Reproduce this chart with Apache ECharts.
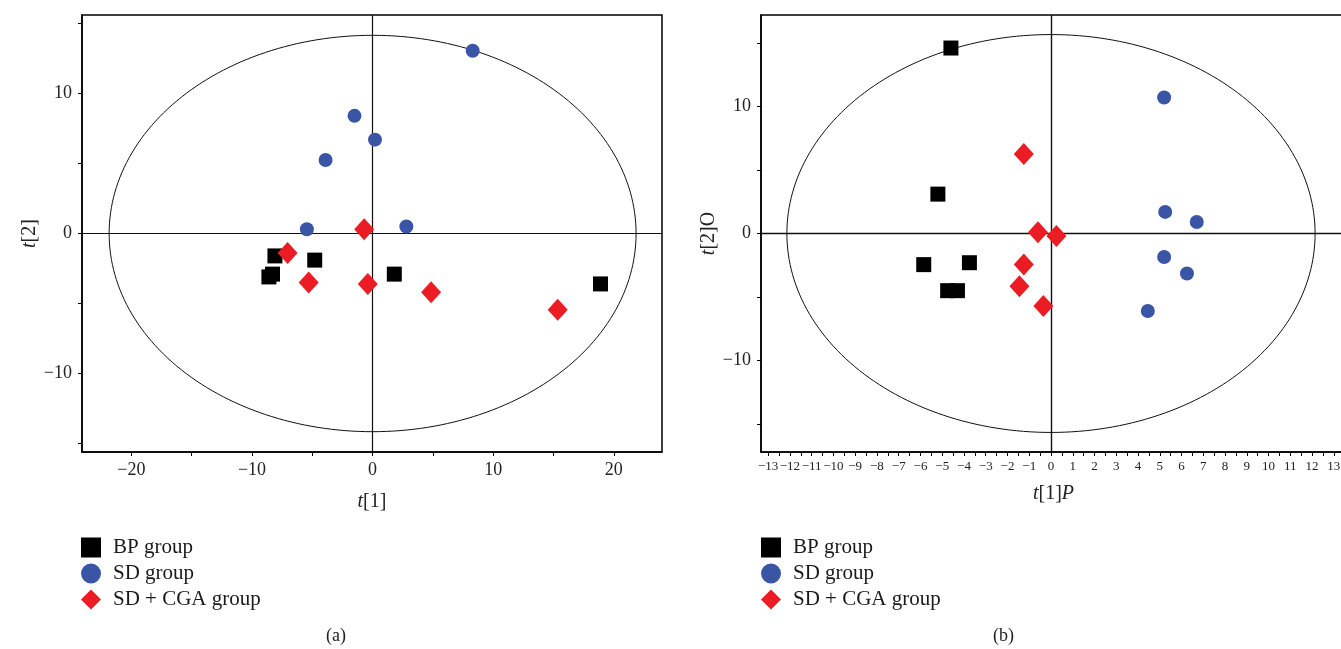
<!DOCTYPE html>
<html>
<head>
<meta charset="utf-8">
<script src="https://cdn.jsdelivr.net/npm/echarts@6/dist/echarts.min.js"></script>
<style>
html,body{margin:0;padding:0;background:#fff;}
#chart{width:1341px;height:649px;}
</style>
</head>
<body>
<div id="chart"></div>
<script>
// ---- Data ----
const groupNames = ['BP group', 'SD group', 'SD + CGA group'];

// Panel (a): t[1], t[2]
const bpA = [[-8.1, -1.6], [-4.8, -1.9], [-8.3, -2.9], [-8.6, -3.1], [1.8, -2.9], [18.9, -3.6]];
const sdA = [[8.3, 13.05], [-1.5, 8.4], [0.2, 6.7], [-3.9, 5.25], [-5.45, 0.3], [2.8, 0.5]];
const cgaA = [[-0.7, 0.3], [-7.05, -1.4], [-5.3, -3.5], [-0.4, -3.6], [4.85, -4.2], [15.35, -5.45]];
const ellipseA = [0, 0, 21.85, 14.15]; // centre x, centre y, semi-axis x, semi-axis y

// Panel (b): t[1]P, t[2]O
const bpB = [[-4.6, 14.6], [-5.2, 3.1], [-5.85, -2.45], [-3.75, -2.3], [-4.75, -4.5], [-4.3, -4.5]];
const sdB = [[5.2, 10.7], [5.25, 1.7], [6.7, 0.9], [5.2, -1.85], [6.25, -3.15], [4.45, -6.1]];
const cgaB = [[-1.25, 6.25], [-0.6, 0.1], [0.25, -0.2], [-1.25, -2.45], [-1.45, -4.15], [-0.35, -5.7]];
const ellipseB = [0, 0, 12.14, 15.66];

// Tick labels
const xTicksA = [-20, -15, -10, -5, 0, 5, 10, 15, 20];
const xLabelsA = [-20, -10, 0, 10, 20];
const yTicksA = [-15, -10, -5, 0, 5, 10, 15];
const yLabelsA = [-10, 0, 10];
const xLabelsB = [-13, -12, -11, -10, -9, -8, -7, -6, -5, -4, -3, -2, -1, 0, 1, 2, 3, 4, 5, 6, 7, 8, 9, 10, 11, 12, 13];
const xTicksB = xLabelsB.concat(xLabelsB.map(v => v + 0.5));
const yTicksB = [-15, -10, -5, 0, 5, 10, 15];
const yLabelsB = [-10, 0, 10];

// ---- Style ----
const SERIF = '"Liberation Serif", "DejaVu Serif", serif';
const BLUE = '#3a55a6';
const RED = '#ec1c24';
const BLACK = '#000000';
const minus = v => String(v).replace('-', '\u2212');

function ellipseSeries(idx, params) {
  return {
    type: 'custom', name: 'ellipse' + idx, xAxisIndex: idx, yAxisIndex: idx,
    silent: true, z: 1, clip: false,
    data: [params],
    renderItem: function (p, api) {
      const c = api.coord([api.value(0), api.value(1)]);
      const e = api.coord([api.value(0) + api.value(2), api.value(1) + api.value(3)]);
      const rx = e[0] - c[0], ry = c[1] - e[1];
      const pts = [];
      for (let i = 0; i <= 240; i++) {
        const t = i / 240 * Math.PI * 2;
        pts.push([c[0] + rx * Math.cos(t), c[1] + ry * Math.sin(t)]);
      }
      return { type: 'polyline', shape: { points: pts }, style: { stroke: '#111', fill: null, lineWidth: 1 } };
    }
  };
}
function crossSeries(idx, w) {
  return {
    type: 'line', name: 'cross' + idx, xAxisIndex: idx, yAxisIndex: idx, data: [],
    markLine: {
      silent: true, symbol: ['none', 'none'], animation: false,
      label: { show: false },
      lineStyle: { color: '#111', type: 'solid', width: w },
      data: [{ xAxis: 0 }, { yAxis: 0 }]
    }
  };
}
function scatter(idx, name, data, symbol, size, color) {
  return {
    type: 'scatter', name: name, xAxisIndex: idx, yAxisIndex: idx, data: data,
    symbol: symbol, symbolSize: size, z: 5,
    itemStyle: { color: color, opacity: 1 }
  };
}
function valueAxis(o) {
  return Object.assign({
    type: 'value', splitLine: { show: false },
    axisLine: { show: true, onZero: false, lineStyle: { color: '#000', width: 1.5 } },
    nameTextStyle: { fontFamily: SERIF, fontSize: 20, color: '#222',
      rich: { i: { fontFamily: SERIF, fontStyle: 'italic', fontSize: 20, color: '#222' },
              n: { fontFamily: SERIF, fontSize: 20, color: '#222' } } }
  }, o);
}
function ticks(vals) {
  return { show: true, inside: false, length: 4, customValues: vals, lineStyle: { color: '#000', width: 1 } };
}
function labels(vals, size, margin) {
  return { color: '#222', fontFamily: SERIF, fontSize: size, formatter: minus, customValues: vals, margin: margin };
}

const legendBase = {
  orient: 'vertical', itemWidth: 20, itemHeight: 20, itemGap: 5,
  textStyle: { fontFamily: SERIF, fontSize: 21, color: '#1a1a1a', padding: [0, 0, 0, 7] },
  selectedMode: false,
  data: [
    { name: groupNames[0], icon: 'rect' },
    { name: groupNames[1], icon: 'circle' },
    { name: groupNames[2], icon: 'diamond' }
  ]
};

const option = {
  animation: false,
  backgroundColor: '#fff',
  grid: [
    { left: 82, top: 15, width: 580, height: 437, show: true, borderColor: '#000', borderWidth: 1.5, backgroundColor: 'transparent', outerBoundsMode: 'none', containLabel: false },
    { left: 761, top: 15, width: 585, height: 437, show: true, borderColor: '#000', borderWidth: 1.5, backgroundColor: 'transparent', outerBoundsMode: 'none', containLabel: false }
  ],
  xAxis: [
    valueAxis({ gridIndex: 0, min: -24.1, max: 24.0,
      name: '{i|t}{n|[1]}', nameLocation: 'middle', nameGap: 40,
      axisTick: ticks(xTicksA), axisLabel: labels(xLabelsA, 18, 9) }),
    valueAxis({ gridIndex: 1, min: -13.33, max: 13.56,
      name: '{i|t}{n|[1]}{i|P}', nameLocation: 'middle', nameGap: 32,
      axisTick: ticks(xTicksB), axisLabel: labels(xLabelsB, 13, 8) })
  ],
  yAxis: [
    valueAxis({ gridIndex: 0, min: -15.6, max: 15.6,
      name: '{i|t}{n|[2]}', nameLocation: 'middle', nameGap: 42,
      axisTick: ticks(yTicksA), axisLabel: labels(yLabelsA, 18, 10) }),
    valueAxis({ gridIndex: 1, min: -17.2, max: 17.2,
      name: '{i|t}{n|[2]O}', nameLocation: 'middle', nameGap: 41,
      axisTick: ticks(yTicksB), axisLabel: labels(yLabelsB, 18, 10) })
  ],
  legend: [
    Object.assign({ left: 76, top: 532 }, legendBase),
    Object.assign({ left: 756, top: 532 }, legendBase)
  ],
  graphic: [
    { type: 'text', left: 326, top: 627, style: { text: '(a)', fontFamily: SERIF, fontSize: 18, fill: '#222' } },
    { type: 'text', left: 993, top: 627, style: { text: '(b)', fontFamily: SERIF, fontSize: 18, fill: '#222' } }
  ],
  series: [
    ellipseSeries(0, ellipseA),
    crossSeries(0, 1.2),
    scatter(0, groupNames[0], bpA, 'rect', 15, BLACK),
    scatter(0, groupNames[1], sdA, 'circle', 14, BLUE),
    scatter(0, groupNames[2], cgaA, 'diamond', [20, 22], RED),
    ellipseSeries(1, ellipseB),
    crossSeries(1, 1.4),
    scatter(1, groupNames[0], bpB, 'rect', 15, BLACK),
    scatter(1, groupNames[1], sdB, 'circle', 14, BLUE),
    scatter(1, groupNames[2], cgaB, 'diamond', [20, 22], RED)
  ]
};

const chart = echarts.init(document.getElementById('chart'), null, { renderer: 'canvas' });
chart.setOption(option);
</script>
</body>
</html>
